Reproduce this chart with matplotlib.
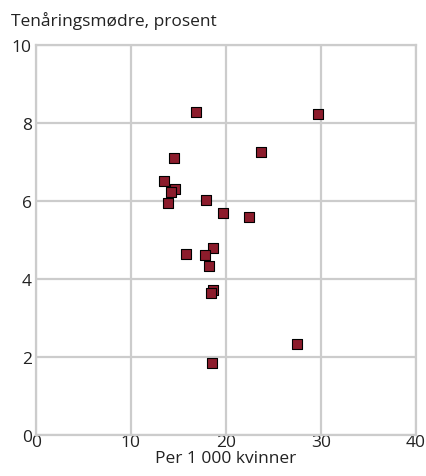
import matplotlib
matplotlib.use("Agg")
import matplotlib.pyplot as plt

plt.rcParams['font.family'] = ['Open Sans', 'DejaVu Sans']

# Fodsler per 1 000 kvinner (x) og tenaringsmodre i prosent (y)
per_1000 = [16.9, 29.7, 23.7, 14.5, 13.5, 14.6, 14.2, 13.9, 17.9, 19.7,
            22.4, 18.6, 15.8, 17.8, 18.2, 18.6, 18.4, 27.5, 18.5]
tenaring = [8.27, 8.22, 7.25, 7.10, 6.50, 6.30, 6.24, 5.95, 6.03, 5.70,
            5.58, 4.80, 4.63, 4.62, 4.33, 3.72, 3.65, 2.33, 1.85]

x_ticks = [0, 10, 20, 30, 40]
y_ticks = [0, 2, 4, 6, 8, 10]

fig = plt.figure(figsize=(4.27, 4.77), dpi=100)
ax = fig.add_axes([0.084, 0.086, 0.890, 0.818])

ax.scatter(per_1000, tenaring, marker='s', s=42, color='#8c1c2c',
           edgecolor='black', linewidth=0.8, zorder=3)

ax.set_xlim(0, 40)
ax.set_ylim(0, 10)
ax.set_xticks(x_ticks)
ax.set_yticks(y_ticks)
ax.grid(True, color='#cccccc', linewidth=1.6)
for s in ax.spines.values():
    s.set_color('#cccccc')
    s.set_linewidth(1.6)
ax.tick_params(length=0, labelsize=12.5, colors='#222222', pad=3)
ax.tick_params(axis='x', pad=-1)

ax.set_xlabel('Per 1 000 kvinner', fontsize=12.5, color='#222222', labelpad=0)
fig.text(0.026, 0.955, 'Tenåringsmødre, prosent', fontsize=12.5,
         color='#222222', va='center', ha='left')

fig.savefig('out.png', dpi=100)
